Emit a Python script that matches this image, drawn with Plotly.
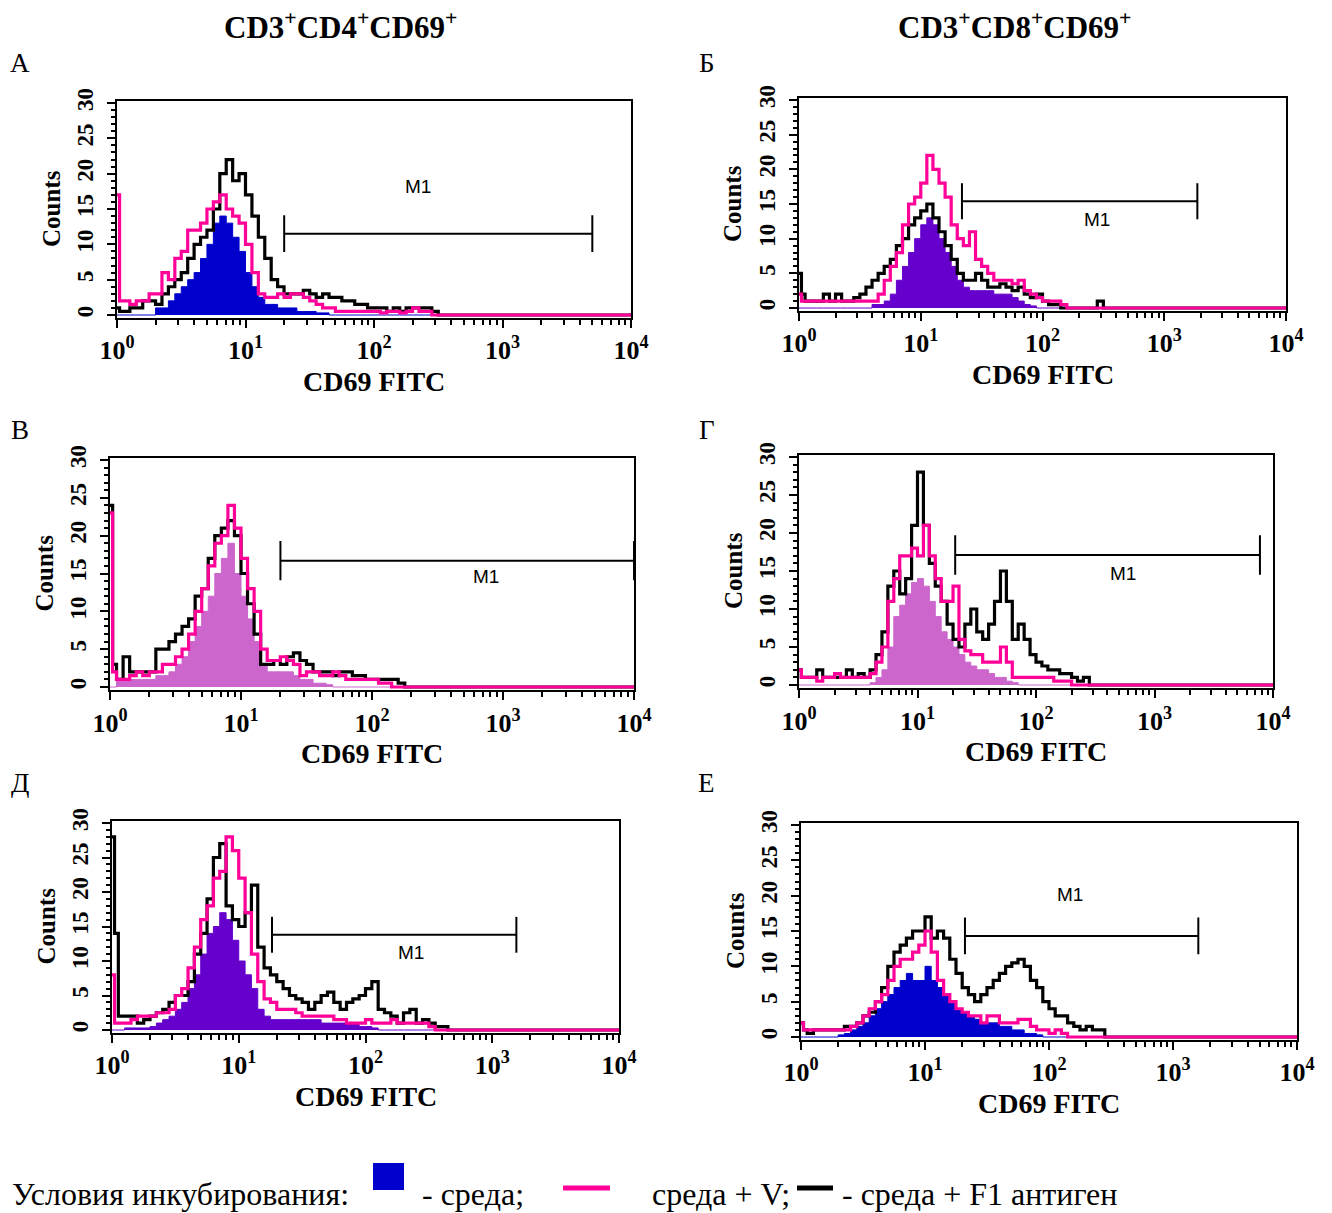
import plotly.graph_objects as go

W, H = 1332, 1213
SERIF = "Liberation Serif"
SANS = "Liberation Sans"

# ---------------- data ----------------
# channel positions (log10 of CD69 FITC fluorescence)
LOG_CH = [0.00, 0.02,
          0.05, 0.10, 0.15, 0.20, 0.25, 0.30, 0.35, 0.40, 0.45, 0.50,
          0.55, 0.60, 0.65, 0.70, 0.75, 0.80, 0.85, 0.90, 0.95, 1.00,
          1.05, 1.10, 1.15, 1.20, 1.25, 1.30, 1.35, 1.40, 1.45, 1.50,
          1.55, 1.60, 1.65, 1.70, 1.75, 1.80, 1.85, 1.90, 1.95, 2.00,
          2.05, 2.10, 2.15, 2.20, 2.25, 2.30, 2.35, 2.40, 2.45, 2.50,
          2.55, 2.60, 2.65, 4.00]

# Panel А  (CD3+CD4+CD69+)
A_MEDIUM = [0, 0,
            0, 0, 0, 0, 0, 1, 1, 2, 3, 4,
            5, 6, 8, 10, 13, 14, 13, 11, 9, 6,
            4, 2.5, 1.5, 1.5, 1, 1, 1, 0.5, 0.5, 0.5,
            0.3, 0.3]
A_V = [17, 2,
       2, 1.5, 2, 2, 3, 3, 6, 5, 8, 9,
       12, 12, 13, 15, 16, 17, 15, 14, 13, 10,
       6, 3, 2.5, 2.5, 3, 2.5, 3, 3, 2.5, 2,
       1.5, 1, 1, 0.5, 0.5, 0.5, 0.5, 0.5, 0.5, 0.5,
       0.3, 0.5, 0.5, 0.3, 0.5, 1, 0.5, 0.5]
A_F1 = [1, 0.5,
        0.5, 1, 1, 2, 2, 1.5, 3, 4, 5, 6,
        8, 10, 11, 12, 15, 20, 22, 19, 20, 17,
        14, 11, 8, 5, 4, 3, 3, 3, 3.5, 3,
        2.5, 3, 2.5, 2.5, 2, 2, 1.5, 1.5, 1, 1,
        1, 0.5, 1, 0.5, 1, 1, 1, 1, 0.5]

# Panel Б  (CD3+CD8+CD69+)
B_MEDIUM = [0, 0,
            0, 0, 0, 0, 0, 0, 0, 0, 0, 0,
            0, 0.5, 0.5, 1, 2, 4, 6, 8, 10, 12,
            13, 12, 10, 8, 6, 4, 3, 2.5, 2.5, 2.5,
            2.5, 2, 2, 2, 1.5, 1, 0.5, 0.3]
B_V = [2, 1,
       1, 1, 1, 1, 1, 1, 1, 1, 1, 1,
       1, 1, 2, 4, 6, 8, 12, 15, 16, 18,
       22, 20, 18, 16, 12, 10, 9, 11, 7, 6,
       5, 4, 4, 4, 3.5, 4, 2.5, 2, 1.5, 1,
       1, 1, 0.5]
B_F1 = [5, 2,
        1, 1, 1, 2, 1, 2, 1, 1, 1.5, 2,
        3, 4, 5, 6, 7, 9, 10, 12, 13, 14,
        15, 13, 11, 9, 7, 5, 4, 4, 5, 4,
        3, 3, 3.5, 3, 2.5, 3, 2, 1.5, 2, 1,
        0.5, 0.5, 0, 0, 0, 0, 0, 0, 1]

# Panel В
C_MEDIUM = [0, 0,
            1, 1, 1, 1, 1, 1, 1.5, 1.5, 2, 3,
            4, 6, 8, 10, 12, 15, 17, 19, 15, 12,
            9, 6, 3, 2, 2, 2, 2, 1.5, 1, 1,
            0.5, 0.5, 0.3]
C_V = [23, 2,
       1, 1, 1.5, 2, 1.5, 2, 2, 3, 3, 4,
       5, 7, 10, 13, 16, 19, 20, 24, 21, 17,
       13, 10, 5, 3.5, 3.5, 4, 3.5, 3, 1.5, 2,
       2, 1.5, 1.5, 2, 1.5, 1, 1, 1, 1, 1,
       0.5, 0.5]
C_F1 = [24, 3,
        1, 4, 2, 2, 2, 2, 5, 5, 6, 7,
        8, 9, 12, 13, 17, 20, 21, 22, 20, 15,
        11, 7, 3, 3, 3.5, 3, 4, 4.5, 3.5, 3,
        2, 2, 2, 1.5, 2, 2, 1.5, 1.5, 1, 1,
        1, 1, 1, 0.5]

# Panel Г
D_MEDIUM = [0, 0,
            0, 0, 0, 0, 0, 0, 0, 0, 0, 0,
            0, 0.3, 1, 2, 5, 9, 10.5, 12, 13.5, 14,
            13, 11, 9, 7, 6, 5, 4, 3, 2.5, 2,
            2, 1.5, 1, 1, 0.5, 0.3]
D_V = [2, 1,
       1, 1, 0.5, 1, 1, 1.5, 1, 1, 1, 1,
       1, 1.5, 3, 5, 11, 14, 17, 17, 18, 17,
       21, 17, 14, 11, 11, 13, 6, 4.5, 4, 4,
       3, 3, 3, 5, 3, 1, 1, 1, 1, 1,
       1, 1, 0.5, 0.5, 0.5]
D_F1 = [2, 1,
        1, 1, 2, 1, 1, 1, 1, 2, 1, 1.5,
        1, 2, 4, 7, 13, 15, 12, 14, 21, 28,
        21, 16, 13, 11, 8, 6, 5, 8, 10, 7,
        6, 8, 11, 15, 11, 6, 8, 6, 4, 3,
        2.5, 2, 2, 1.5, 1.5, 1, 0.5, 1]

# Panel Д
E_MEDIUM = [0, 0,
            0, 0.3, 0.3, 0.3, 0.3, 0.5, 1, 1.5, 2, 3,
            4, 6, 8, 11, 14, 15, 17, 16, 13, 10,
            8, 6, 3, 2, 1.5, 1.5, 1.5, 1.5, 1.5, 1.5,
            1.5, 1.5, 1, 1, 1, 1, 1, 1, 0.5, 0.5,
            0.3]
E_V = [8, 1,
       1, 1, 1.5, 2, 2, 2, 2.5, 2.5, 3, 5,
       6, 9, 12, 16, 18, 22, 23, 28, 26, 22,
       17, 11, 7, 4.5, 4, 3, 3, 3, 2.5, 2,
       2, 2, 2, 2, 1.5, 1.5, 1, 1, 1, 1.5,
       1, 1, 1, 1.5, 1, 1, 1, 1, 1, 0.5]
E_F1 = [28, 14,
        2, 2, 2, 1, 1.5, 2, 2.5, 3, 4, 5,
        5, 7, 11, 14, 19, 25, 27, 18, 16, 15,
        17, 21, 12, 9, 8, 7, 6, 5, 4.5, 4,
        3, 4, 5, 5.5, 4, 3, 4, 4.5, 5, 6,
        7, 3, 2.5, 2, 1, 2.5, 3, 1, 1.5, 1,
        0.5, 0.5]

# Panel Е
F_MEDIUM = [0, 0,
            0, 0, 0, 0, 0, 0.3, 0.5, 1, 1.5, 2,
            3, 4, 5, 6, 7, 8, 9, 8, 8, 10,
            8, 7, 6, 5, 4, 3.5, 3, 2.5, 2, 2,
            2, 1.5, 1.5, 1, 1, 0.5, 0.5, 0.3]
F_V = [2, 1,
       1, 1, 1, 1, 1, 1, 1, 1.5, 2, 3,
       4, 5, 6, 8, 10, 11, 11, 12, 13, 15,
       12, 8, 6, 5, 4, 3.5, 3, 3, 2, 3,
       3, 2, 2, 2, 2.5, 2.5, 1.5, 1, 1, 0.5,
       1, 0.5]
F_F1 = [2, 1,
        0.5, 1, 1, 1, 1, 1, 1.5, 1.5, 2, 3,
        3.5, 5, 7, 10, 12, 13, 14, 15, 15, 17,
        14, 15, 14, 11, 9, 7, 6, 5, 6, 7,
        8, 9, 10, 10.5, 11, 10, 8, 7, 5, 4,
        3, 3, 2, 1.5, 1, 1.5, 1, 1]

# M1 gate markers
M1_LEFT = [20, 21.8, 20, 20.8, 18.3, 21]
M1_RIGHT = [5000, 1870, 10000, 7760, 1550, 1600]
M1_LEVEL = [11.5, 15.4, 16.7, 17.1, 13.8, 14.3]

PANEL_LETTERS = ["А", "Б", "В", "Г", "Д", "Е"]
COLUMN_TITLES = ["CD3<sup>+</sup>CD4<sup>+</sup>CD69<sup>+</sup>",
                 "CD3<sup>+</sup>CD8<sup>+</sup>CD69<sup>+</sup>"]
X_TICKVALS = [1, 10, 100, 1000, 10000]
X_TICKTEXT = ["10<sup>0</sup>", "10<sup>1</sup>", "10<sup>2</sup>",
              "10<sup>3</sup>", "10<sup>4</sup>"]
Y_TICKVALS = [0, 5, 10, 15, 20, 25, 30]
Y_TICKTEXT = ["<b>0</b>", "<b>5</b>", "<b>10</b>", "<b>15</b>", "<b>20</b>",
              "<b>25</b>", "<b>30</b>"]
LEGEND_LABELS = ["Условия инкубирования:", "- среда;", "среда + V;",
                 "- среда + F1 антиген"]

MEDIUMS = [A_MEDIUM, B_MEDIUM, C_MEDIUM, D_MEDIUM, E_MEDIUM, F_MEDIUM]
VS = [A_V, B_V, C_V, D_V, E_V, F_V]
F1S = [A_F1, B_F1, C_F1, D_F1, E_F1, F_F1]

# ---------------- styles / layout ----------------
PINK = "#FF0099"
BLACK = "#000000"
BLUE = "#0000CC"
PURPLE = "#6600CC"
ORCHID = "#CC66CC"
FILL_COLORS = [BLUE, PURPLE, ORCHID, ORCHID, PURPLE, BLUE]

# pixel geometry: left, right, pixel of count 0, pixel of count 30
GEOM = [
    (117, 631, 315, 103),
    (799, 1286, 308, 100),
    (110, 634, 687, 460),
    (799, 1273, 685, 457),
    (112, 619, 1030, 823),
    (801, 1297, 1037, 825),
]
LETTER_POS = [(20, 63), (707, 63), (20, 430), (707, 430), (20, 783), (707, 783)]
M1_LABEL_POS = [(2.34, 18.2), (2.45, 12.8), (2.87, 14.6), (2.73, 14.7),
                (2.36, 11.2), (2.17, 20.1)]
M1_HALF = 2.6
YMIN, YMAX = -0.45, 30.3

def pad(a):
    return list(a) + [0] * (len(LOG_CH) - len(a))

X_VALUES = [10 ** v for v in LOG_CH]
MINOR_X = [k * 10 ** d for d in range(4) for k in range(2, 10)]

def px(x):
    return x / W

def py(y):
    return 1 - y / H

fig = go.Figure()
annotations = []
shapes = []
layout_axes = {}

tickfont_x = dict(family=SERIF, size=26, color="black", weight="bold")
tickfont_y = dict(family=SERIF, size=23, color="black", weight="bold")

def paper_text(x, y, text, font, xanchor="center", textangle=0):
    return dict(x=px(x), y=py(y), xref="paper", yref="paper", text=text,
                showarrow=False, xanchor=xanchor, yanchor="middle",
                textangle=textangle, font=font)

for i in range(6):
    n = i + 1
    xa = "x" if n == 1 else f"x{n}"
    ya = "y" if n == 1 else f"y{n}"
    left, right, y0, y30 = GEOM[i]
    ppc = (y0 - y30) / 30.0
    top_px = y0 - YMAX * ppc
    bot_px = y0 - YMIN * ppc

    layout_axes["xaxis" if n == 1 else f"xaxis{n}"] = dict(
        domain=[px(left), px(right)], anchor=ya, type="log", range=[0, 4.0],
        tickmode="array", tickvals=X_TICKVALS, ticktext=X_TICKTEXT,
        ticks="outside", ticklen=8, tickwidth=2, tickcolor="black",
        showline=True, linecolor="black", linewidth=2, mirror=True,
        showgrid=False, zeroline=False, tickfont=tickfont_x, automargin=False,
        minor=dict(tickmode="array", tickvals=MINOR_X, ticks="outside",
                   ticklen=5, tickwidth=1.5, tickcolor="black", showgrid=False),
        fixedrange=True,
    )
    layout_axes["yaxis" if n == 1 else f"yaxis{n}"] = dict(
        domain=[py(bot_px), py(top_px)], anchor=xa, range=[YMIN, YMAX],
        tickmode="array", tickvals=Y_TICKVALS, ticktext=Y_TICKTEXT, tickangle=-90,
        ticks="outside", ticklen=8, tickwidth=2, tickcolor="black",
        showline=True, linecolor="black", linewidth=2, mirror=True,
        showgrid=False, zeroline=False, tickfont=tickfont_y, automargin=False,
        ticklabelstandoff=5,
        minor=dict(tickmode="linear", tick0=0, dtick=1, ticks="outside",
                   ticklen=4, tickwidth=1.5, tickcolor="black", showgrid=False),
        fixedrange=True,
    )

    fig.add_trace(go.Scatter(
        x=X_VALUES, y=pad(MEDIUMS[i]), xaxis=xa, yaxis=ya, mode="lines",
        line=dict(shape="hv", color=FILL_COLORS[i], width=1),
        fill="tozeroy", fillcolor=FILL_COLORS[i], showlegend=False,
        hoverinfo="skip"))
    fig.add_trace(go.Scatter(
        x=X_VALUES, y=pad(F1S[i]), xaxis=xa, yaxis=ya, mode="lines",
        line=dict(shape="hv", color=BLACK, width=3.2), showlegend=False,
        hoverinfo="skip"))
    fig.add_trace(go.Scatter(
        x=X_VALUES, y=pad(VS[i]), xaxis=xa, yaxis=ya, mode="lines",
        line=dict(shape="hv", color=PINK, width=3.2), showlegend=False,
        hoverinfo="skip"))

    # M1 marker
    L, R, Y = M1_LEFT[i], M1_RIGHT[i], M1_LEVEL[i]
    fig.add_trace(go.Scatter(
        x=[L, L, None, L, R, None, R, R],
        y=[Y - M1_HALF, Y + M1_HALF, None, Y, Y, None, Y - M1_HALF, Y + M1_HALF],
        xaxis=xa, yaxis=ya, mode="lines", line=dict(color="black", width=2),
        showlegend=False, hoverinfo="skip"))
    lx, ly = M1_LABEL_POS[i]
    annotations.append(dict(x=lx, y=ly, xref=xa, yref=ya, text="M1",
                            xanchor="center", yanchor="middle",
                            showarrow=False, font=dict(family=SANS, size=19, color="black")))

    # Counts label
    annotations.append(paper_text(left - 66, (y0 + y30) / 2, "<b>Counts</b>",
                                  dict(family=SERIF, size=25, color="black"),
                                  textangle=-90))
    # x title
    annotations.append(paper_text((left + right) / 2, bot_px + 63, "<b>CD69 FITC</b>",
                                  dict(family=SERIF, size=28, color="black")))
    # panel letter
    lxp, lyp = LETTER_POS[i]
    annotations.append(paper_text(lxp, lyp, PANEL_LETTERS[i],
                                  dict(family=SERIF, size=27, color="black")))

# column titles
for cx, t in zip([340, 1015], COLUMN_TITLES):
    annotations.append(paper_text(cx, 25, f"<b>{t}</b>",
                                  dict(family=SERIF, size=31, color="black")))

# legend row
LEG_Y = 1194
for xl, t in zip([10, 420, 650, 840], LEGEND_LABELS):
    annotations.append(paper_text(xl, LEG_Y, t, dict(family=SERIF, size=32, color="black"),
                                  xanchor="left"))
shapes.append(dict(type="rect", xref="paper", yref="paper",
                   x0=px(373), x1=px(404), y0=py(1190), y1=py(1163),
                   fillcolor=BLUE, line=dict(width=0)))
shapes.append(dict(type="line", xref="paper", yref="paper",
                   x0=px(563), x1=px(610), y0=py(1188), y1=py(1188),
                   line=dict(color=PINK, width=5)))
shapes.append(dict(type="line", xref="paper", yref="paper",
                   x0=px(797), x1=px(833), y0=py(1188), y1=py(1188),
                   line=dict(color=BLACK, width=5)))

fig.update_layout(
    width=W, height=H, margin=dict(l=0, r=0, t=0, b=0, autoexpand=False),
    paper_bgcolor="white", plot_bgcolor="white",
    showlegend=False, annotations=annotations, shapes=shapes,
    **layout_axes,
)

fig.write_html("out.html")
